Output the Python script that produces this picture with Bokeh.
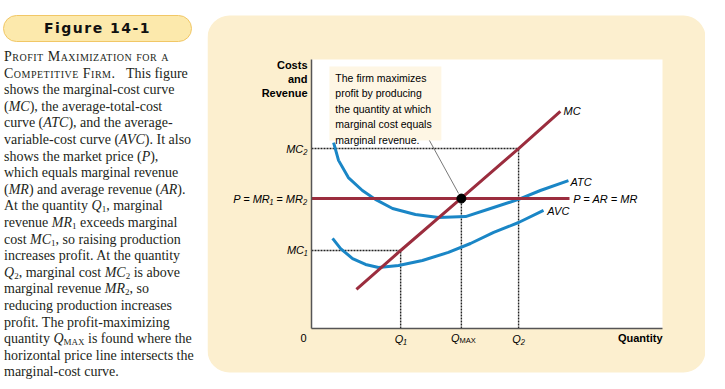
from bokeh.plotting import figure
from bokeh.models import Range1d, FixedTicker, Label, Div, BoxAnnotation
from bokeh.layouts import row
from bokeh.embed import file_html
from bokeh.resources import INLINE

# ---------------- data (quantity / cost units) ----------------
q_one, q_max, q_two = 2.54, 4.27, 5.90
mc_one, price, mc_two = 2.90, 4.83, 6.69
q_ticks = [q_one, q_max, q_two]
q_tick_labels = ["Q₁", "", "Q₂"]
cost_ticks = [mc_one, price, mc_two]
cost_tick_labels = ["MC₁", "P = MR₁ = MR₂", "MC₂"]

mc_q = [1.28, 2.54, 4.27, 5.90, 7.09]
mc_cost = [1.45, 2.90, 4.85, 6.69, 8.07]

atc_q = [0.63, 0.77, 1.05, 1.45, 1.82, 2.31, 2.96, 3.62, 4.39, 5.10, 5.90, 6.52, 7.32]
atc_cost = [6.91, 6.25, 5.61, 5.13, 4.80, 4.46, 4.24, 4.13, 4.16, 4.46, 4.80, 5.13, 5.50]

avc_q = [0.60, 0.83, 1.17, 1.54, 1.91, 2.48, 3.16, 3.90, 4.53, 5.19, 5.90, 6.61]
avc_cost = [3.35, 2.97, 2.60, 2.38, 2.27, 2.34, 2.53, 2.83, 3.16, 3.57, 3.94, 4.39]

price_q = [0.0, 7.35]
price_cost = [price, price]

# guide (dotted) lines built from the marked values
guide_x0 = [0, 0, q_one, q_max, q_two]
guide_y0 = [mc_one, mc_two, 0, 0, 0]
guide_x1 = [q_one, q_two, q_one, q_max, q_two]
guide_y1 = [mc_one, mc_two, mc_one, price, mc_two]

# ---------------- styling ----------------
PANEL = "#FCEFCF"
BLUE = "#1A86C6"
MAROON = "#9B2D3E"
SANS = "Liberation Sans"

X0, X1 = -2.963, 11.225
Y0, Y1 = -1.970, 12.193
PANEL_BOTTOM, PANEL_TOP = -1.636, 11.636

# the frame spans the whole canvas; the white plotting area is 0..10 x 0..10
p = figure(width=498, height=381,
           x_range=Range1d(X0, X1), y_range=Range1d(Y0, Y1),
           output_backend="svg", toolbar_location=None,
           min_border=0, min_border_left=0, min_border_right=0,
           min_border_top=0, min_border_bottom=0,
           border_fill_color="white", background_fill_color="white",
           outline_line_color=None)
p.margin = 0
p.grid.visible = False

p.add_layout(BoxAnnotation(left=X0, right=X1, bottom=PANEL_BOTTOM, top=PANEL_TOP,
                           fill_color=PANEL, fill_alpha=1, line_color=None,
                           border_radius=22, level="underlay"))
p.add_layout(BoxAnnotation(left=0, right=10, bottom=0, top=10, fill_color="white",
                           fill_alpha=1, line_color=None, level="underlay"))
p.add_layout(BoxAnnotation(left=0.51, right=3.70, bottom=6.99, top=9.74,
                           fill_color="#FEF6E4", fill_alpha=1, line_color=None,
                           level="underlay"))

for ax in (p.xaxis[0], p.yaxis[0]):
    ax.fixed_location = 0
    ax.bounds = (0, 10)
    ax.axis_line_color = "#555555"
    ax.axis_line_width = 1.5
    ax.major_tick_line_color = None
    ax.minor_tick_line_color = None
    ax.major_tick_in = 0
    ax.major_tick_out = 0
    ax.major_label_text_font = SANS
    ax.major_label_text_font_style = "italic"
    ax.major_label_text_font_size = "11px"
    ax.major_label_text_color = "black"
    ax.major_label_standoff = 4

p.xaxis.ticker = FixedTicker(ticks=q_ticks)
p.xaxis.major_label_overrides = {t: s for t, s in zip(q_ticks, q_tick_labels)}
p.yaxis.ticker = FixedTicker(ticks=cost_ticks)
p.yaxis.major_label_overrides = {t: s for t, s in zip(cost_ticks, cost_tick_labels)}

p.segment(guide_x0, guide_y0, guide_x1, guide_y1, line_color="#222222",
          line_width=1.4, line_dash="2 1")

p.line(atc_q, atc_cost, line_color=BLUE, line_width=3)
p.line(avc_q, avc_cost, line_color=BLUE, line_width=3)
p.line(price_q, price_cost, line_color=MAROON, line_width=3)
p.line(mc_q, mc_cost, line_color=MAROON, line_width=3)

# pointer from annotation to the optimum
p.line([3.36, 4.19], [6.99, 5.02], line_color="#555555", line_width=0.8)
p.scatter([q_max], [price], size=9, color="black")

def lab(text, x, y, align="left", style="italic", size="11px", baseline="middle", **kw):
    p.add_layout(Label(x=x, y=y, text=text, text_align=align, text_baseline=baseline,
                       text_font=SANS, text_font_style=style, text_font_size=size,
                       text_color="black", **kw))

lab("The firm maximizes\nprofit by producing\nthe quantity at which\nmarginal cost equals\nmarginal revenue.",
    0.68, 9.55, style="normal", size="10.5px", baseline="top", text_line_height=1.3)

lab("MC", 7.18, 8.10)
lab("ATC", 7.38, 5.46)
lab("P = AR = MR", 7.46, 4.80)
lab("AVC", 6.72, 4.35)

lab("Costs", 0, 9.78, align="right", style="bold", x_offset=-4)
lab("and", 0, 9.29, align="right", style="bold", x_offset=-4)
lab("Revenue", 0, 8.77, align="right", style="bold", x_offset=-4)

lab("0", 0, -0.37, align="center", style="normal", x_offset=-8)
lab("Quantity", 10, -0.37, align="right", style="bold")
lab("Q", q_max, -0.37, align="center", x_offset=-6)
lab("MAX", q_max, -0.43, align="left", style="normal", size="7.5px", x_offset=-2)

sub = 'style="font-size:9px;vertical-align:-2px;line-height:0"'
html = f"""
<div style="padding-top:15px;padding-left:3px;width:204px;white-space:nowrap;color:#231F20;">
<div style="box-sizing:border-box;width:189px;height:27px;border:1.5px solid #F1C766;background:#FCE9AC;
border-radius:14px;text-align:center;font-family:'DejaVu Sans';font-weight:bold;font-size:14px;
letter-spacing:1.5px;line-height:24px;color:#111;">Figure 14-1</div>
<div style="padding-top:7px;padding-left:1px;font-family:'Liberation Serif';font-size:14px;line-height:16.6px;">
<span style="font-variant:small-caps;letter-spacing:0.5px">Profit Maximization for a<br>Competitive Firm.</span>&nbsp;&nbsp;&nbsp;This figure<br>
shows the marginal-cost curve<br>
(<i>MC</i>), the average-total-cost<br>
curve (<i>ATC</i>), and the average-<br>
variable-cost curve (<i>AVC</i>). It also<br>
shows the market price (<i>P</i>),<br>
which equals marginal revenue<br>
(<i>MR</i>) and average revenue (<i>AR</i>).<br>
At the quantity <i>Q</i><span {sub}>1</span>, marginal<br>
revenue <i>MR</i><span {sub}>1</span> exceeds marginal<br>
cost <i>MC</i><span {sub}>1</span>, so raising production<br>
increases profit. At the quantity<br>
<i>Q</i><span {sub}>2</span>, marginal cost <i>MC</i><span {sub}>2</span> is above<br>
marginal revenue <i>MR</i><span {sub}>2</span>, so<br>
reducing production increases<br>
profit. The profit-maximizing<br>
quantity <i>Q</i><span {sub}>MAX</span> is found where the<br>
horizontal price line intersects the<br>
marginal-cost curve.
</div></div>
"""
div = Div(text=html, width=207, height=381)
div.margin = 0

layout = row(div, p)

open("out.html", "w").write(file_html(layout, INLINE))
